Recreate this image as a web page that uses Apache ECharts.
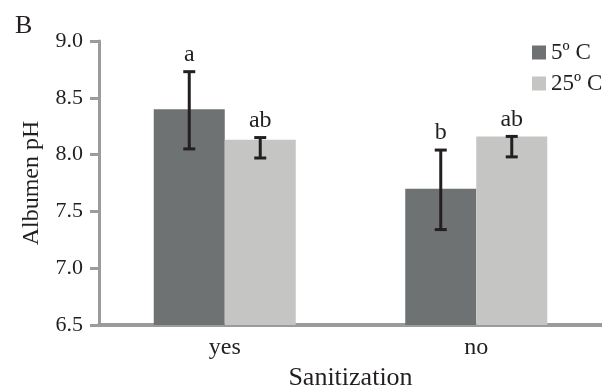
<!DOCTYPE html>
<html>
<head>
<meta charset="utf-8">
<script src="https://cdn.jsdelivr.net/npm/echarts@6/dist/echarts.min.js"></script>
<style>html,body{margin:0;padding:0;background:#fff}#c{width:602px;height:385px}</style>
</head>
<body>
<div id="c"></div>
<script>
var categories = ['yes', 'no'];
var seriesNames = ['5º C', '25º C'];
var means5 = [8.40, 7.70];
var means25 = [8.13, 8.16];
var errLow5 = [8.05, 7.34];
var errHigh5 = [8.73, 8.04];
var errLow25 = [7.97, 7.98];
var errHigh25 = [8.15, 8.16];
var letters5 = ['a', 'b'];
var letters25 = ['ab', 'ab'];
var yTicks = [6.5, 7.0, 7.5, 8.0, 8.5, 9.0];

var FONT = '"Liberation Serif", "DejaVu Serif", serif';
var BAR_W = 71;
var TXT = '#231f20';

function errSeries(low, high, letters, offset) {
  var data = categories.map(function (c, i) { return [i, low[i], high[i], letters[i]]; });
  return {
    type: 'custom',
    silent: true,
    z: 10,
    data: data,
    encode: { x: 0, y: [1, 2] },
    renderItem: function (params, api) {
      var i = api.value(0);
      var lo = api.coord([i, api.value(1)]);
      var hi = api.coord([i, api.value(2)]);
      var x = lo[0] + offset;
      var cap = 6;
      var st = { stroke: '#231f20', lineWidth: 3 };
      return {
        type: 'group',
        children: [
          { type: 'line', shape: { x1: x, y1: hi[1], x2: x, y2: lo[1] }, style: st },
          { type: 'line', shape: { x1: x - cap, y1: hi[1], x2: x + cap, y2: hi[1] }, style: st },
          { type: 'line', shape: { x1: x - cap, y1: lo[1], x2: x + cap, y2: lo[1] }, style: st },
          { type: 'text', style: { text: data[params.dataIndex][3], x: x, y: hi[1] - 5, align: 'center', verticalAlign: 'bottom', font: '24px ' + FONT, fill: TXT } }
        ]
      };
    }
  };
}

var chart = echarts.init(document.getElementById('c'), null, { renderer: 'canvas' });
chart.setOption({
  animation: false,
  backgroundColor: '#fff',
  title: { text: 'B', left: 10, top: 8, textStyle: { fontFamily: FONT, fontSize: 26, fontWeight: 'normal', color: TXT } },
  legend: {
    orient: 'vertical', left: 527, top: 36,
    itemWidth: 14, itemHeight: 14, itemGap: 8,
    icon: 'rect',
    textStyle: { fontFamily: FONT, fontSize: 23, color: TXT, lineHeight: 23, padding: [0, 0, 0, 0] },
    data: seriesNames
  },
  grid: { left: 99, right: 0, top: 41, bottom: 60, outerBoundsMode: 'none', containLabel: false },
  xAxis: {
    type: 'category', data: categories,
    axisLine: { lineStyle: { color: '#9b9b9b', width: 4 } },
    axisTick: { show: false },
    axisLabel: { fontFamily: FONT, fontSize: 24, color: TXT, margin: 11 },
    name: 'Sanitization', nameLocation: 'middle', nameGap: 38,
    nameTextStyle: { fontFamily: FONT, fontSize: 26, color: TXT }
  },
  yAxis: {
    type: 'value', min: yTicks[0], max: yTicks[yTicks.length - 1], interval: 0.5,
    axisLine: { show: true, lineStyle: { color: '#9b9b9b', width: 3 } },
    axisTick: { show: true, length: 9, lineStyle: { color: '#9b9b9b', width: 3 } },
    splitLine: { show: false },
    axisLabel: { fontFamily: FONT, fontSize: 22, color: TXT, margin: 16, formatter: function (v) { return v.toFixed(1); } },
    name: 'Albumen pH', nameLocation: 'middle', nameGap: 55, nameRotate: 90,
    nameTextStyle: { fontFamily: FONT, fontSize: 24, color: TXT }
  },
  series: [
    { name: seriesNames[0], type: 'bar', data: means5, barWidth: BAR_W, barGap: '0%', itemStyle: { color: '#6e7272' } },
    { name: seriesNames[1], type: 'bar', data: means25, barWidth: BAR_W, barGap: '0%', itemStyle: { color: '#c5c5c3' } },
    errSeries(errLow5, errHigh5, letters5, -BAR_W / 2),
    errSeries(errLow25, errHigh25, letters25, BAR_W / 2)
  ]
});
</script>
</body>
</html>
